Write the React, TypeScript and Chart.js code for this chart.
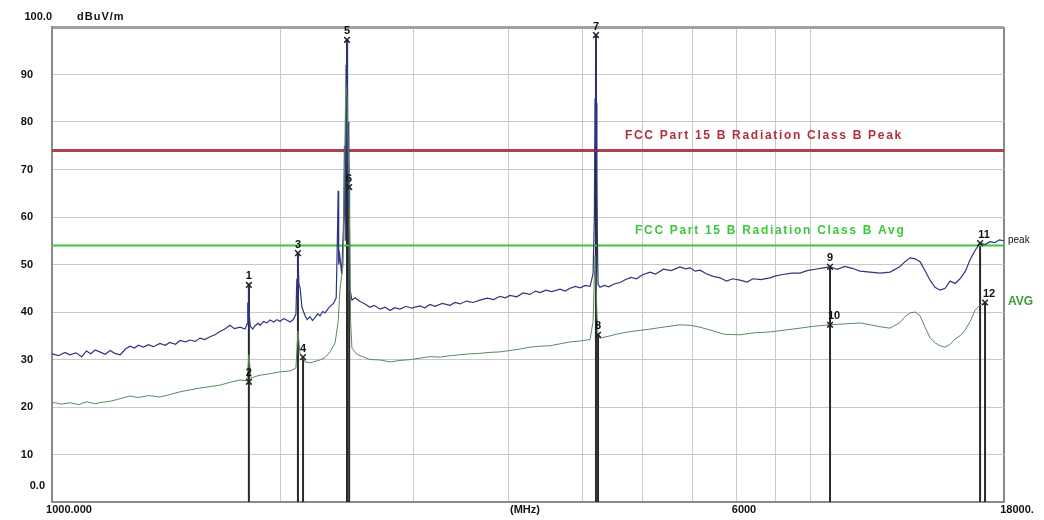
import React, { useEffect, useRef } from "react";
import { Chart, registerables } from "chart.js";

Chart.register(...registerables);

// Peak trace: [frequency MHz, level dBuV/m]
const peakPoints: number[][] = [
  [1000, 31.2], [1020, 30.8], [1040, 31.5], [1056, 31.0], [1075, 31.4], [1095, 30.6], [1110, 31.8],
  [1125, 31.2], [1140, 32.0], [1160, 31.5], [1175, 31.1], [1193, 31.9], [1210, 31.3], [1230, 31.0],
  [1250, 32.2], [1267, 32.8], [1285, 32.4], [1300, 33.0], [1320, 32.6], [1340, 33.1], [1360, 32.7],
  [1388, 33.4], [1410, 33.0], [1430, 33.6], [1455, 33.2], [1475, 34.0], [1500, 33.7], [1520, 34.1],
  [1545, 33.8], [1567, 34.5], [1590, 34.2], [1616, 34.8], [1640, 35.2], [1665, 35.9], [1690, 36.4],
  [1717, 37.2], [1740, 36.5], [1770, 36.8], [1797, 36.4], [1808, 37.5], [1812, 42.0], [1816, 38.0],
  [1818, 46.0], [1821, 39.0], [1826, 37.0],
  [1840, 36.4], [1852, 37.1], [1870, 37.6], [1881, 37.2], [1900, 38.0], [1920, 37.7], [1939, 38.3],
  [1960, 37.9], [1980, 38.4], [1998, 38.0], [2020, 38.6], [2045, 38.2], [2060, 37.9], [2080, 38.4],
  [2097, 39.5], [2103, 47.0], [2107, 43.0], [2110, 52.4], [2116, 46.0], [2124, 45.0], [2136, 41.0],
  [2156, 39.2], [2170, 38.4], [2189, 39.0],
  [2205, 38.2], [2222, 38.8], [2240, 39.6], [2256, 39.2], [2275, 40.1], [2291, 39.8], [2310, 40.6],
  [2326, 41.2], [2350, 41.8], [2370, 43.0], [2380, 58.0], [2384, 65.5], [2388, 50.0], [2395, 52.0],
  [2410, 48.0], [2425, 60.0], [2430, 75.0], [2436, 55.0], [2442, 92.0], [2446, 70.0], [2449, 97.3],
  [2453, 88.0], [2458, 62.0], [2462, 80.0], [2470, 45.0], [2486, 42.5], [2510, 43.0], [2548, 42.2],
  [2580, 41.8], [2626, 41.0], [2660, 41.4], [2707, 40.6], [2750, 41.0], [2791, 40.3], [2830, 40.9],
  [2877, 40.6], [2930, 41.2], [2980, 40.8], [3057, 41.3], [3100, 40.9], [3151, 41.6], [3200, 41.2],
  [3270, 41.8], [3348, 41.4], [3400, 42.0], [3451, 41.7], [3520, 42.3], [3590, 42.0], [3667, 42.5],
  [3750, 42.9], [3820, 42.6], [3897, 43.3], [3960, 43.0], [4017, 43.5], [4100, 43.2], [4180, 44.0],
  [4268, 43.7], [4340, 44.4], [4400, 44.1], [4480, 44.6], [4560, 44.3], [4676, 44.8], [4750, 44.4],
  [4820, 45.0], [4900, 45.4], [4969, 45.1], [5050, 45.6], [5122, 45.4], [5169, 48.0], [5190, 60.0],
  [5200, 85.0], [5207, 75.0], [5215, 98.3], [5222, 84.0], [5230, 70.0], [5238, 55.0], [5248, 45.8],
  [5280, 45.2], [5350, 45.6], [5420, 45.3], [5510, 45.9],
  [5610, 46.2], [5700, 46.8], [5800, 47.3], [5900, 47.0], [6000, 47.8], [6145, 48.4], [6250, 48.0],
  [6400, 49.0], [6550, 48.7], [6731, 49.5], [6850, 49.1], [6939, 49.3], [7050, 48.6], [7153, 48.8],
  [7300, 48.0], [7450, 47.5], [7600, 47.2], [7750, 46.5], [7900, 47.0], [8075, 46.7], [8250, 46.3],
  [8400, 47.0], [8600, 46.8], [8846, 47.2], [9000, 47.6], [9200, 47.9], [9450, 48.2], [9690, 48.2],
  [9900, 48.7], [10150, 49.0], [10400, 49.3], [10614, 49.5], [10850, 49.0], [11100, 49.6], [11350, 49.2],
  [11627, 48.6], [11985, 48.4], [12350, 48.2], [12735, 48.4], [13129, 49.6], [13330, 50.6], [13534, 51.4],
  [13741, 51.2], [13950, 50.6], [14164, 48.7], [14380, 46.7], [14600, 45.2], [14825, 44.6], [15051, 45.0],
  [15283, 46.5], [15516, 46.0], [15751, 47.0], [15995, 48.5], [16240, 51.0], [16490, 53.0], [16739, 54.5],
  [17000, 54.2], [17250, 54.8], [17500, 54.6], [17750, 55.2], [18000, 55.0],
];

// Average trace: [frequency MHz, level dBuV/m]
const avgPoints: number[][] = [
  [1000, 21.0], [1030, 20.6], [1056, 20.9], [1085, 20.5], [1110, 21.1], [1140, 20.7], [1165, 21.0],
  [1193, 21.2], [1220, 21.6], [1267, 22.3], [1300, 22.0], [1340, 22.4], [1388, 22.1], [1430, 22.6],
  [1475, 23.2], [1520, 23.6], [1567, 24.0], [1616, 24.3], [1665, 24.6], [1717, 25.2], [1770, 25.7],
  [1808, 25.5], [1818, 31.0], [1830, 26.0], [1852, 26.4], [1881, 26.7], [1939, 27.0], [1998, 27.4],
  [2060, 27.6], [2097, 28.2], [2110, 36.0], [2124, 31.0], [2143, 30.5], [2156, 29.5], [2189, 29.3],
  [2222, 29.6], [2256, 29.9], [2291, 30.4], [2326, 31.6], [2362, 33.5], [2384, 38.0], [2398, 45.0],
  [2420, 50.0], [2440, 88.0], [2449, 85.0], [2465, 66.3], [2476, 38.0], [2486, 32.4], [2520, 31.2],
  [2548, 30.8], [2626, 30.0], [2707, 29.9], [2791, 29.5], [2877, 29.8], [2980, 30.0], [3057, 30.3],
  [3151, 30.6], [3250, 30.5], [3348, 30.8], [3451, 31.0], [3560, 31.2], [3667, 31.3], [3780, 31.5],
  [3897, 31.6], [4017, 31.9], [4140, 32.2], [4268, 32.6], [4400, 32.8], [4540, 32.9], [4676, 33.3],
  [4820, 33.7], [4969, 33.9], [5122, 34.2], [5169, 38.0], [5200, 52.0], [5230, 40.0], [5248, 35.2],
  [5280, 34.5], [5450, 35.0], [5610, 35.5], [5800, 35.9], [6145, 36.4], [6450, 36.9], [6731, 37.3],
  [6939, 37.2], [7153, 36.8], [7450, 36.0], [7700, 35.3], [8075, 35.2], [8400, 35.6], [8846, 35.8],
  [9250, 36.2], [9690, 36.6], [10100, 37.0], [10614, 37.3], [11100, 37.5], [11627, 37.7], [12000, 37.3],
  [12350, 36.9], [12735, 36.6], [13129, 37.8], [13330, 39.0], [13534, 39.8], [13741, 40.0], [13950, 39.2],
  [14164, 36.8], [14380, 34.6], [14600, 33.5], [14825, 32.9], [15051, 32.6], [15283, 33.2], [15516, 34.3],
  [15751, 35.0], [15995, 36.2], [16240, 38.0], [16490, 40.4], [16739, 41.5], [16993, 42.0],
];

// Limit lines
const limitFreq = [1000, 18000];
const peakLimit = 74;
const avgLimit = 54;
const peakLimitLabel = "FCC Part 15 B Radiation Class B Peak";
const avgLimitLabel = "FCC Part 15 B Radiation Class B Avg";
const peakLimitLabelFreq = 5695;
const avgLimitLabelFreq = 5871;

// Markers
const markerLabels = ["1", "2", "3", "4", "5", "6", "7", "8", "9", "10", "11", "12"];
const markerFreq = [1818, 1818, 2110, 2143, 2449, 2465, 5215, 5248, 10614, 10614, 16739, 16993];
const markerLevel = [45.7, 25.3, 52.4, 30.5, 97.3, 66.3, 98.3, 35.2, 49.5, 37.3, 54.5, 42.0];

// Axes
const xMin = 1000;
const xMax = 18000;
const xGridValues = [1000, 2000, 3000, 4000, 5000, 6000, 7000, 8000, 9000, 10000, 18000];
const yTickValues = [0, 10, 20, 30, 40, 50, 60, 70, 80, 90, 100];
const yTickText = ["0.0", "10", "20", "30", "40", "50", "60", "70", "80", "90", "100.0"];
const yUnit = "dBuV/m";
const xLabels = ["1000.000", "(MHz)", "6000", "18000."];
const xLabelPos = [69, 525, 744, 1017];
const traceNames = ["peak", "AVG"];

const FONT = "'Liberation Sans', Arial, sans-serif";

const overlayPlugin = {
  id: "overlay",
  afterDatasetsDraw(chart: any) {
    const { ctx, scales } = chart;
    const x = scales.x;
    const y = scales.y;
    ctx.save();

    // Y tick labels
    ctx.fillStyle = "#111";
    ctx.font = `bold 11px ${FONT}`;
    ctx.textBaseline = "middle";
    ctx.textAlign = "right";
    yTickValues.forEach((v, i) => {
      const py = y.getPixelForValue(v);
      if (v === 100) ctx.fillText(yTickText[i], 52, py - 10);
      else if (v === 0) ctx.fillText(yTickText[i], 45, py - 16);
      else ctx.fillText(yTickText[i], 33, py);
    });
    // unit
    ctx.textAlign = "left";
    (ctx as any).letterSpacing = "1px";
    ctx.fillText(yUnit, 77, y.getPixelForValue(100) - 10);
    (ctx as any).letterSpacing = "0px";

    // X labels
    ctx.textAlign = "center";
    xLabels.forEach((t, i) => {
      ctx.fillText(t, xLabelPos[i], y.getPixelForValue(0) + 8);
    });

    // Limit labels
    (ctx as any).letterSpacing = "1.7px";
    ctx.font = `bold 12px ${FONT}`;
    ctx.textAlign = "left";
    ctx.fillStyle = "#b0303a";
    ctx.fillText(peakLimitLabel, x.getPixelForValue(peakLimitLabelFreq), y.getPixelForValue(peakLimit) - 15);
    ctx.fillStyle = "#3cc83c";
    ctx.fillText(avgLimitLabel, x.getPixelForValue(avgLimitLabelFreq), y.getPixelForValue(avgLimit) - 15);
    (ctx as any).letterSpacing = "0px";

    // Trace names
    ctx.font = `10px ${FONT}`;
    ctx.fillStyle = "#111";
    const lastPeak = peakPoints[peakPoints.length - 1];
    ctx.fillText(traceNames[0], x.right + 4, y.getPixelForValue(lastPeak[1]) - 1);
    ctx.font = `bold 12px ${FONT}`;
    ctx.fillStyle = "#3c9a3c";
    const lastAvg = avgPoints[avgPoints.length - 1];
    ctx.fillText(traceNames[1], x.right + 4, y.getPixelForValue(lastAvg[1]) - 1);

    // Marker numbers
    ctx.font = `bold 11px ${FONT}`;
    ctx.fillStyle = "#111";
    ctx.textAlign = "center";
    ctx.textBaseline = "bottom";
    markerFreq.forEach((f, i) => {
      ctx.fillText(markerLabels[i], x.getPixelForValue(f) + (markerLabels[i].length > 1 ? 4 : 0), y.getPixelForValue(markerLevel[i]) - 3);
    });
    ctx.restore();
  },
};

export default function App() {
  const ref = useRef<HTMLCanvasElement | null>(null);
  useEffect(() => {
    if (!ref.current) return;
    const vlines: any[] = [];
    markerFreq.forEach((f, i) => {
      vlines.push({ x: f, y: markerLevel[i] });
      vlines.push({ x: f, y: 0 });
      vlines.push({ x: f, y: null });
    });
    const chart = new Chart(ref.current, {
      type: "scatter",
      data: {
        datasets: [
          {
            label: "markers",
            data: markerFreq.map((f, i) => ({ x: f, y: markerLevel[i] })),
            pointStyle: "crossRot",
            pointRadius: 4,
            borderColor: "#222",
            borderWidth: 1.5,
            showLine: false,
            order: 0,
          },
          {
            label: "marker lines",
            data: vlines,
            showLine: true,
            spanGaps: false,
            pointRadius: 0,
            borderColor: "#2a2a2a",
            borderWidth: 2,
            order: 5,
          },
          {
            label: "Peak limit",
            data: limitFreq.map((f) => ({ x: f, y: peakLimit })),
            showLine: true,
            pointRadius: 0,
            borderColor: "#b0404a",
            borderWidth: 3,
            order: 4,
          },
          {
            label: "Avg limit",
            data: limitFreq.map((f) => ({ x: f, y: avgLimit })),
            showLine: true,
            pointRadius: 0,
            borderColor: "#3cc83c",
            borderWidth: 2,
            order: 4,
          },
          {
            label: "AVG",
            data: avgPoints.map((p) => ({ x: p[0], y: p[1] })),
            showLine: true,
            pointRadius: 0,
            borderColor: "#5a8a5a",
            borderWidth: 1,
            order: 2,
          },
          {
            label: "peak",
            data: peakPoints.map((p) => ({ x: p[0], y: p[1] })),
            showLine: true,
            pointRadius: 0,
            borderColor: "#2e3580",
            borderWidth: 1.2,
            order: 3,
          },
        ],
      },
      options: {
        animation: false,
        responsive: false,
        layout: { padding: { top: 27, right: 40, left: 0, bottom: 0 } },
        plugins: { legend: { display: false }, tooltip: { enabled: false } },
        scales: {
          x: {
            type: "logarithmic",
            min: xMin,
            max: xMax,
            afterBuildTicks: (s: any) => {
              s.ticks = xGridValues.map((v) => ({ value: v }));
            },
            afterFit: (s: any) => {
              s.height = 18;
            },
            ticks: { display: false },
            grid: {
              drawTicks: false,
              color: (c: any) => (c.tick && c.tick.value === xMax ? "#8a8a8a" : "#c8c8c8"),
              lineWidth: (c: any) => (c.tick && c.tick.value === xMax ? 2 : 1),
            },
            border: { display: true, color: "#8a8a8a", width: 2 },
          },
          y: {
            min: 0,
            max: 100,
            ticks: { display: false, stepSize: 10 },
            afterFit: (s: any) => {
              s.width = 52;
            },
            grid: {
              drawTicks: false,
              color: (c: any) => (c.tick && c.tick.value === 100 ? "#a0a0a0" : "#c8c8c8"),
              lineWidth: (c: any) => (c.tick && c.tick.value === 100 ? 3 : 1),
            },
            border: { display: true, color: "#8a8a8a", width: 2 },
          },
        },
      },
      plugins: [overlayPlugin],
    } as any);
    return () => chart.destroy();
  }, []);
  return (
    <div style={{ position: "absolute", left: 0, top: 0, width: 1044, height: 520, background: "#fff" }}>
      <canvas ref={ref} width={1044} height={520} />
    </div>
  );
}
